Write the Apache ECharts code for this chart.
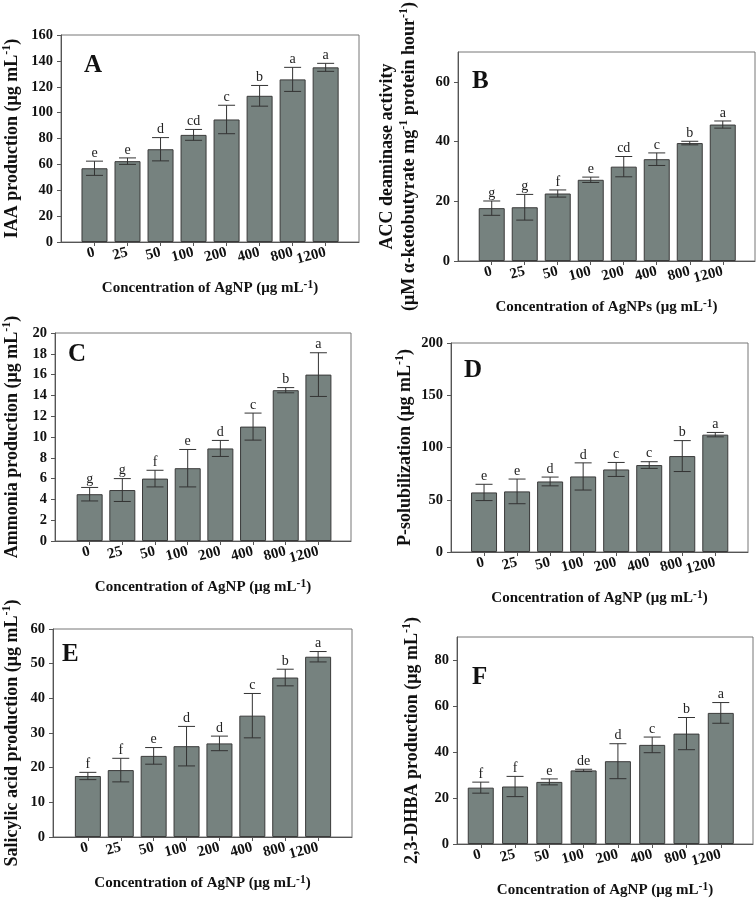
<!DOCTYPE html>
<html><head><meta charset="utf-8">
<script src="https://cdn.jsdelivr.net/npm/echarts@6/dist/echarts.min.js"></script>
<style>html,body{margin:0;padding:0;background:#fff}#c{width:756px;height:900px}</style>
</head><body><div id="c"></div>
<script>
// ---------- data ----------
const categories = ['0', '25', '50', '100', '200', '400', '800', '1200'];

const iaaMean = [57, 62.5, 71.7, 82.8, 94.7, 113, 125.7, 135];
const iaaErr = [5.5, 2.5, 9, 4.2, 11, 8, 9.3, 3.1];
const iaaLetters = ['e', 'e', 'd', 'cd', 'c', 'b', 'a', 'a'];

const accMean = [17.7, 18, 22.6, 27.2, 31.6, 34.1, 39.5, 45.7];
const accErr = [2.4, 4.3, 1.2, 0.9, 3.4, 2.1, 0.6, 1.2];
const accLetters = ['g', 'g', 'f', 'e', 'cd', 'c', 'b', 'a'];

const nh3Mean = [4.5, 4.9, 6.0, 7.0, 8.9, 11.0, 14.5, 16.0];
const nh3Err = [0.65, 1.1, 0.8, 1.8, 0.77, 1.3, 0.25, 2.1];
const nh3Letters = ['g', 'g', 'f', 'e', 'd', 'c', 'b', 'a'];

const psolMean = [57, 58, 67.5, 72.3, 79, 83.2, 91.8, 112.3];
const psolErr = [7.8, 11.8, 4.2, 13, 6.7, 3.2, 14.8, 2.1];
const psolLetters = ['e', 'e', 'd', 'd', 'c', 'c', 'b', 'a'];

const saMean = [17.6, 19.3, 23.4, 26.2, 27, 35, 46, 52];
const saErr = [1.05, 3.4, 2.4, 5.7, 2.1, 6.4, 2.4, 1.5];
const saLetters = ['f', 'f', 'e', 'd', 'd', 'c', 'b', 'a'];

const dhbaMean = [24.5, 25, 27, 32, 36, 43.1, 48, 57];
const dhbaErr = [2.4, 4.4, 1.3, 0.5, 7.6, 3.4, 7, 4.5];
const dhbaLetters = ['f', 'f', 'e', 'de', 'd', 'c', 'b', 'a'];

const yTicksA = [0, 20, 40, 60, 80, 100, 120, 140, 160];
const yTicksB = [0, 20, 40, 60];
const yTicksC = [0, 2, 4, 6, 8, 10, 12, 14, 16, 18, 20];
const yTicksD = [0, 50, 100, 150, 200];
const yTicksE = [0, 10, 20, 30, 40, 50, 60];
const yTicksF = [0, 20, 40, 60, 80];

const yNameA = 'IAA production (μg mL{s|-1})';
const yNameB = 'ACC deaminase activity\n(μM α-ketobutyrate mg{s|-1} protein hour{s|-1})';
const yNameC = 'Ammonia production (μg mL{s|-1})';
const yNameD = 'P-solubilization (μg mL{s|-1})';
const yNameE = 'Salicylic acid production (μg mL{s|-1})';
const yNameF = '2,3-DHBA production (μg mL{s|-1})';
const xNameNP = 'Concentration of AgNP (μg mL{s|-1})';
const xNameNPs = 'Concentration of AgNPs (μg mL{s|-1})';

// ---------- layout ----------
const FONT = '"Liberation Serif", "Times New Roman", serif';
const panels = [
  { label: 'A', mean: iaaMean, err: iaaErr, letters: iaaLetters, yTicks: yTicksA, ymax: 160,
    grid: { left: 61, top: 35, width: 298, height: 207 }, xr: [-1.014, 8.01],
    yName: yNameA, yGap: 38, xName: xNameNP, lab: { left: 84, top: 53 } },
  { label: 'B', mean: accMean, err: accErr, letters: accLetters, yTicks: yTicksB, ymax: 70,
    grid: { left: 458, top: 52, width: 297, height: 209 }, xr: [-1.022, 7.977],
    yName: yNameB, yGap: 38, xName: xNameNPs, lab: { left: 472, top: 69 } },
  { label: 'C', mean: nh3Mean, err: nh3Err, letters: nh3Letters, yTicks: yTicksC, ymax: 20,
    grid: { left: 52, top: 333, width: 299, height: 208 }, xr: [-1.06, 7.997],
    yName: yNameC, yGap: 32, xName: xNameNP, lab: { left: 68, top: 342 } },
  { label: 'D', mean: psolMean, err: psolErr, letters: psolLetters, yTicks: yTicksD, ymax: 200,
    grid: { left: 451, top: 343, width: 297, height: 209 }, xr: [-1.0, 7.99],
    yName: yNameD, yGap: 35, xName: xNameNP, lab: { left: 464, top: 358 } },
  { label: 'E', mean: saMean, err: saErr, letters: saLetters, yTicks: yTicksE, ymax: 60,
    grid: { left: 52, top: 629, width: 300, height: 208 }, xr: [-1.06, 8.03],
    yName: yNameE, yGap: 30, xName: xNameNP, lab: { left: 62, top: 642 } },
  { label: 'F', mean: dhbaMean, err: dhbaErr, letters: dhbaLetters, yTicks: yTicksF, ymax: 90,
    grid: { left: 457, top: 637, width: 296, height: 209 }, xr: [-0.693, 7.94],
    yName: yNameF, yGap: 34, xName: xNameNP, lab: { left: 472, top: 665 } }
];

const idx = categories.map((c, i) => i);
const grids = [], xAxes = [], yAxes = [], series = [], titles = [];

panels.forEach((p, k) => {
  grids.push(Object.assign({ show: true, borderColor: '#777', borderWidth: 1, containLabel: false }, p.grid));
  xAxes.push({
    type: 'value', gridIndex: k, min: p.xr[0], max: p.xr[1],
    splitLine: { show: false },
    axisLine: { show: true, onZero: false, lineStyle: { color: '#555', width: 1 } },
    axisTick: { show: true, length: 4, customValues: idx, lineStyle: { color: '#555' } },
    axisLabel: {
      customValues: idx, rotate: 15, margin: 10,
      formatter: v => categories[Math.round(v)],
      fontFamily: FONT, fontWeight: 'bold', fontSize: 15, color: '#111'
    },
    name: p.xName, nameLocation: 'middle', nameGap: 37,
    nameTextStyle: { fontFamily: FONT, fontWeight: 'bold', fontSize: 15, color: '#111', lineHeight: 18,
      rich: { s: { fontFamily: FONT, fontWeight: 'bold', fontSize: 11.5, color: '#111', verticalAlign: 'top', lineHeight: 18 } } }
  });
  yAxes.push({
    type: 'value', gridIndex: k, min: 0, max: p.ymax,
    splitLine: { show: false },
    axisLine: { show: true, onZero: false, lineStyle: { color: '#555', width: 1 } },
    axisTick: { show: true, length: 4, customValues: p.yTicks, lineStyle: { color: '#555' } },
    axisLabel: { customValues: p.yTicks, margin: 8, fontFamily: FONT, fontWeight: 'bold', fontSize: 14.5, color: '#111' },
    name: p.yName, nameLocation: 'middle', nameGap: p.yGap, nameRotate: 90,
    nameTextStyle: { fontFamily: FONT, fontWeight: 'bold', fontSize: 18, color: '#111', lineHeight: 22,
      rich: { s: { fontFamily: FONT, fontWeight: 'bold', fontSize: 12, color: '#111', verticalAlign: 'top', lineHeight: 22 } } }
  });
  series.push({
    type: 'bar', xAxisIndex: k, yAxisIndex: k, barWidth: 26,
    data: p.mean.map((v, i) => [i, v]),
    itemStyle: { color: '#76827f', borderColor: '#3a3a3a', borderWidth: 1 },
    silent: true, animation: false
  });
  const letters = p.letters;
  series.push({
    type: 'custom', xAxisIndex: k, yAxisIndex: k, z: 5, silent: true, animation: false,
    data: p.mean.map((v, i) => [i, v - p.err[i], v + p.err[i]]),
    renderItem: (params, api) => {
      const x = api.value(0);
      const hi = api.coord([x, api.value(2)]);
      const lo = api.coord([x, api.value(1)]);
      const cap = 8.5;
      const ls = { stroke: '#333', lineWidth: 1 };
      return { type: 'group', children: [
        { type: 'line', shape: { x1: hi[0], y1: hi[1], x2: lo[0], y2: lo[1] }, style: ls },
        { type: 'line', shape: { x1: hi[0] - cap, y1: hi[1], x2: hi[0] + cap, y2: hi[1] }, style: ls },
        { type: 'line', shape: { x1: lo[0] - cap, y1: lo[1], x2: lo[0] + cap, y2: lo[1] }, style: ls },
        { type: 'text', x: hi[0], y: hi[1] - 1,
          style: { text: letters[params.dataIndex], textAlign: 'center', textVerticalAlign: 'bottom',
            font: '14px ' + FONT, fill: '#222' } }
      ] };
    }
  });
  titles.push({ text: p.label, left: p.lab.left, top: p.lab.top, padding: 0,
    textStyle: { fontFamily: FONT, fontWeight: 'bold', fontSize: 25, color: '#111' } });
});

const chart = echarts.init(document.getElementById('c'), null, { renderer: 'canvas' });
chart.setOption({
  backgroundColor: '#fff', animation: false,
  title: titles, grid: grids, xAxis: xAxes, yAxis: yAxes, series: series
});
</script></body></html>
